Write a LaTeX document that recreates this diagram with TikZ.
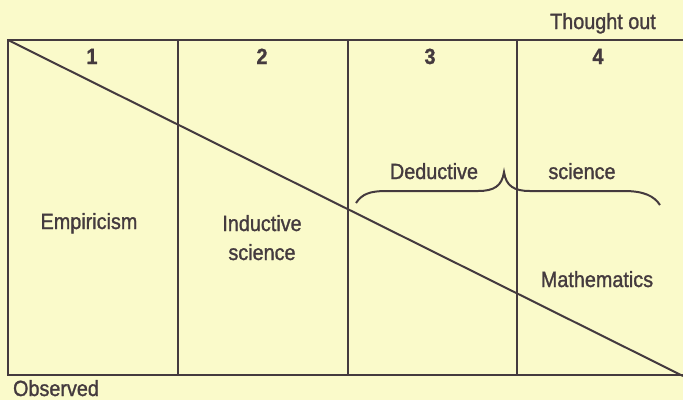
\documentclass[tikz,border=0pt]{standalone}
\usepackage{fontspec}
\setmainfont{Liberation Sans}[FakeStretch=0.9,FakeBold=1.2]
\definecolor{paper}{RGB}{250,250,202}
\definecolor{ink}{RGB}{68,58,62}
\begin{document}
\begin{tikzpicture}[x=1pt,y=-1pt,
  rule/.style={draw=ink,line width=2.2pt},
  lbl/.style={inner sep=0pt,anchor=base,text=ink,font=\fontsize{22}{29}\selectfont},
  num/.style={lbl,font=\fontsize{22}{29}\selectfont\bfseries}]
\fill[paper] (0,0) rectangle (683,400);
\useasboundingbox (0,0) rectangle (683,400);
\coordinate (tl) at (8,40);
\coordinate (tr) at (683,40);
\coordinate (bl) at (8,375);
\coordinate (br) at (683,376);
\coordinate (v1t) at (178,40); \coordinate (v1b) at (178,375);
\coordinate (v2t) at (348,40); \coordinate (v2b) at (348,375);
\coordinate (v3t) at (517,40); \coordinate (v3b) at (517,375);
\draw[rule] (tr) -- (tl) -- (bl) -- (683,375);
\draw[rule] (v1t) -- (v1b);
\draw[rule] (v2t) -- (v2b);
\draw[rule] (v3t) -- (v3b);
\draw[rule,line width=2pt] (tl) -- (br);
% brace
\draw[draw=ink,line width=2pt] (356,203) .. controls (362,194) and (370,191) .. (386,191)
  -- (478,191) .. controls (494,191) and (502,186) .. (504,172)
  .. controls (506,186) and (514,191) .. (530,191)
  -- (624,191) .. controls (644,191) and (654,196) .. (660,205);
% labels
\node[lbl] (thought) at (603,29) {Thought out};
\node[lbl] (observed) at (56,396) {Observed};
\node[num] (n1) at (92,64) {1};
\node[num] (n2) at (262,64) {2};
\node[num] (n3) at (430,64) {3};
\node[num] (n4) at (598,64) {4};
\node[lbl] (emp) at (89,229) {Empiricism};
\node[lbl] (ind) at (262,231) {Inductive};
\node[lbl] (ind2) at (262,260) {science};
\node[lbl] (ded) at (434,179) {Deductive};
\node[lbl] (sci) at (582,179) {science};
\node[lbl] (math) at (597,287) {Mathematics};
\end{tikzpicture}
\end{document}
